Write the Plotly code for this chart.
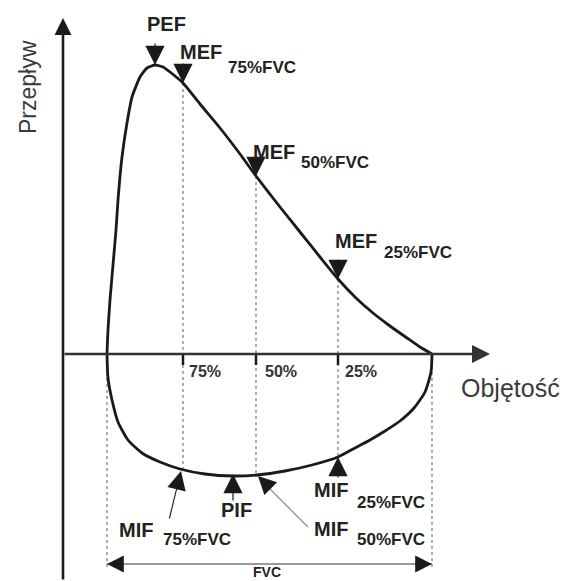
import plotly.graph_objects as go

# ---- data (schematic units: volume to the right, flow up = expiration) ----
exp_volume = [44, 45, 47, 50, 53, 55, 59, 64, 69, 77, 84, 92, 100, 107, 120, 137, 157, 177,
              193, 217, 237, 257, 275, 293, 310, 327, 344, 357, 369]
exp_flow = [0, 24, 54, 89, 124, 154, 197, 231, 257, 277, 286, 289, 287, 282, 271, 250, 226, 200,
            178, 147, 122, 97, 75, 56, 41, 28, 16, 7, 0]
insp_volume = [369, 368, 362, 351, 337, 322, 307, 292, 275, 249, 222, 194, 170, 142, 117, 97,
               79, 65, 55, 49, 45, 44]
insp_flow = [0, -18, -38, -54, -67, -77, -86, -94, -103, -111, -117, -121, -122, -120, -115,
             -108, -99, -86, -68, -46, -24, 0]

tlc_volume = 44
rv_volume = 369
pct_labels = ["75%", "50%", "25%"]
pct_volume = [120, 193, 275]
mef_flow = [271, 178, 75]
mif_flow = [-115, -121, -103]
mef_sub = ["75%FVC", "50%FVC", "25%FVC"]
pef_volume, pef_flow = 92, 289
pif_volume, pif_flow = 171, -122

axis_flow_top, axis_flow_bottom = 336, -227
axis_volume_end = 427
fvc_flow = -210

# helper for layout placement (pixel -> data)
def X(px):
    return px - 63

def Y(py):
    return 354 - py

INK = "#1a1a1a"
GRID = "#7a7a7a"
FONT = "Liberation Sans, Arial, sans-serif"

fig = go.Figure()

# dashed guide lines
for v, top, bot in zip(pct_volume, mef_flow, mif_flow):
    fig.add_trace(go.Scatter(x=[v, v], y=[top, bot], mode="lines",
                             line=dict(color=GRID, width=1.2, dash="3px,3px"),
                             hoverinfo="skip", showlegend=False))
for v in [tlc_volume, rv_volume]:
    fig.add_trace(go.Scatter(x=[v, v], y=[0, fvc_flow - 4], mode="lines",
                             line=dict(color=GRID, width=1.2, dash="3px,3px"),
                             hoverinfo="skip", showlegend=False))

# tick marks on volume axis
for v in pct_volume:
    fig.add_trace(go.Scatter(x=[v, v], y=[0, -11], mode="lines",
                             line=dict(color=INK, width=2.5),
                             hoverinfo="skip", showlegend=False))

# loop
fig.add_trace(go.Scatter(x=exp_volume, y=exp_flow, mode="lines",
                         line=dict(color=INK, width=2.8, shape="spline", smoothing=0.5),
                         showlegend=False))
fig.add_trace(go.Scatter(x=insp_volume, y=insp_flow, mode="lines",
                         line=dict(color=INK, width=2.8, shape="spline", smoothing=0.6),
                         showlegend=False))

# FVC line (grey) and MIF50 pointer line (grey)
fig.add_trace(go.Scatter(x=[tlc_volume, rv_volume], y=[fvc_flow, fvc_flow], mode="lines",
                         line=dict(color="#9a9a9a", width=1.8), hoverinfo="skip", showlegend=False))
fig.add_trace(go.Scatter(x=[pct_volume[1] + 4, pct_volume[1] + 52],
                         y=[mif_flow[1] - 4, mif_flow[1] - 52], mode="lines",
                         line=dict(color="#9a9a9a", width=1.5), hoverinfo="skip", showlegend=False))

ann = []

def arrow(tx, ty, ax, ay, color=INK, width=1.2, size=3.2, head=2):
    ann.append(dict(x=tx, y=ty, ax=ax, ay=ay, xref="x", yref="y", axref="x", ayref="y",
                    text="", showarrow=True, arrowhead=head, arrowsize=size,
                    arrowwidth=width, arrowcolor=color, standoff=0))

# axes with arrows
arrow(0, axis_flow_top, 0, axis_flow_bottom, color=INK, width=2.6, size=1.3)
arrow(axis_volume_end, 0, 0, 0, color="#333333", width=2.4, size=1.5)

# FVC heads
arrow(tlc_volume, fvc_flow, tlc_volume + 14, fvc_flow, width=1.2, size=2.8)
arrow(rv_volume, fvc_flow, rv_volume - 14, fvc_flow, width=1.2, size=2.8)

# marker arrows
arrow(pef_volume, pef_flow, pef_volume, pef_flow + 23)
for v, f in zip(pct_volume, mef_flow):
    arrow(v, f, v, f + 21)
arrow(pct_volume[2], mif_flow[2], pct_volume[2], mif_flow[2] - 22)
arrow(pif_volume - 1, pif_flow + 2, pif_volume - 1, pif_flow - 26)
arrow(pct_volume[0] - 2, mif_flow[0] - 2, pct_volume[0] - 14, mif_flow[0] - 51, width=1.1, size=3.4)
arrow(pct_volume[1] + 2, mif_flow[1] - 1, pct_volume[1] + 14, mif_flow[1] - 13, size=3.0)

def text(px, py, s, size, bold=True, color="#222222", angle=0):
    ann.append(dict(x=X(px), y=Y(py), xref="x", yref="y", text=("<b>%s</b>" % s) if bold else s,
                    showarrow=False, textangle=angle,
                    font=dict(family=FONT, size=size, color=color),
                    xanchor="center", yanchor="middle"))

text(166, 24, "PEF", 20)
text(201, 52, "MEF", 20); text(262, 67, mef_sub[0], 17)
text(274, 152, "MEF", 20); text(335, 162, mef_sub[1], 17)
text(356, 241, "MEF", 20); text(418, 252, mef_sub[2], 17)
for px, lab in zip([205, 281, 361], pct_labels):
    text(px, 371, lab, 16, color="#333333")
text(510, 388, "Objętość", 25, bold=False, color="#3a3a3a")
text(28, 87, "Przepływ", 23, bold=False, color="#3a3a3a", angle=-90)
text(331, 490, "MIF", 20); text(391, 502, mef_sub[2], 17)
text(236, 510, "PIF", 20)
text(136, 530, "MIF", 20); text(197, 539, mef_sub[0], 17)
text(331, 529, "MIF", 20); text(391, 539, mef_sub[1], 17)
text(267, 572, "FVC", 14)

fig.update_layout(
    width=567, height=581,
    margin=dict(l=0, r=0, t=0, b=0),
    paper_bgcolor="white", plot_bgcolor="white",
    xaxis=dict(range=[-63, 504], visible=False, fixedrange=True),
    yaxis=dict(range=[-227, 354], visible=False, fixedrange=True),
    annotations=ann,
    showlegend=False,
)

fig.write_html("out.html", config={"displayModeBar": False},
               post_script="document.body.style.margin='0px';document.body.style.overflow='hidden';")
